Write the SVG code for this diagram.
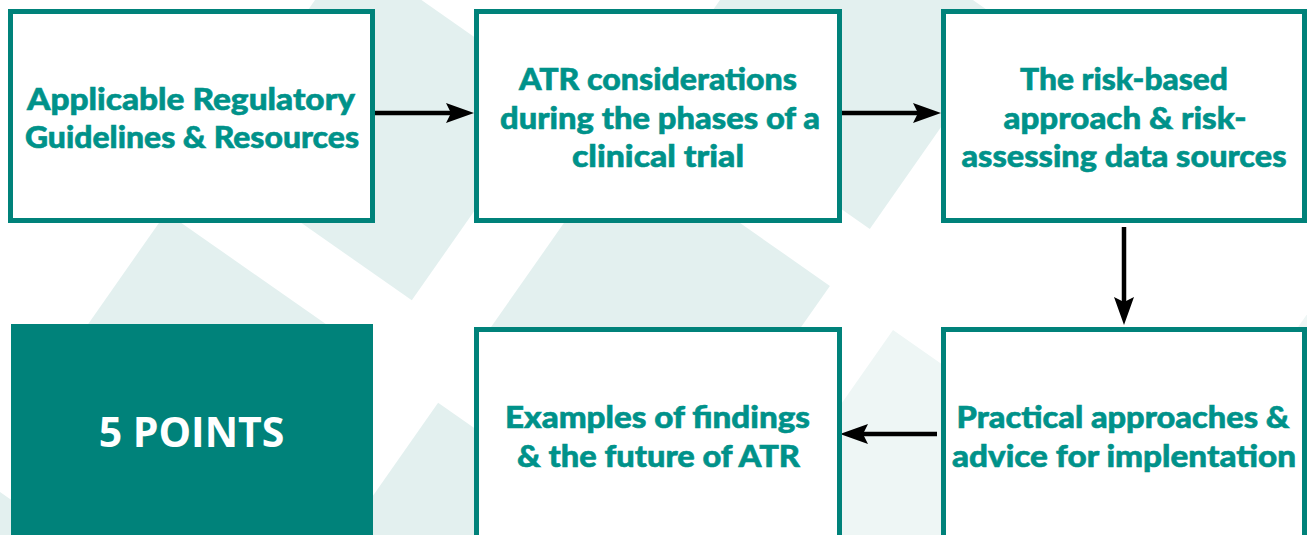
<svg xmlns="http://www.w3.org/2000/svg" width="1307" height="535" viewBox="0 0 1307 535">
  <style>
    .tile { fill: #E3F0EF; }
    .tile-soft { fill: #EEF6F5; }
    .box { fill: #FFFFFF; stroke: #00827A; stroke-width: 5; }
    .badge { fill: #00827A; }
    .label { font-family: Lato, "Open Sans", "Liberation Sans", sans-serif; font-weight: 900; font-size: 31px; fill: #00928A; stroke: #00928A; stroke-width: 0.6; text-anchor: middle; }
    .badge-label { font-family: "Open Sans", "Liberation Sans", sans-serif; font-weight: 700; font-size: 41px; fill: #FFFFFF; text-anchor: middle; }
    .link { stroke: #000000; stroke-width: 4.5; fill: none; }
  </style>
  <defs>
    <marker id="arrowhead" viewBox="0 0 28 20" refX="6" refY="10" markerWidth="28" markerHeight="20" markerUnits="userSpaceOnUse" orient="auto">
      <path d="M0,0 L28,10 L0,20 L5,10 Z" fill="#000000"/>
    </marker>
  </defs>

  <!-- tilted square backdrop -->
  <g id="backdrop">
    <polygon class="tile" points="350,-50 556,94.2 411.8,300.3 205.8,156"/>
    <polygon class="tile" points="166.3,212.4 372.3,356.6 229.5,560.7 23.5,416.4"/>
    <polygon class="tile" points="-19.7,478.2 186.3,622.4 43.5,826.4 -162.6,682.2"/>
    <polygon class="tile" points="803.2,-118.8 1011.2,26.8 869.8,228.9 661.7,83.2"/>
    <polygon class="tile" points="621.8,140.3 829.9,285.9 685.6,491.9 477.6,346.3"/>
    <polygon class="tile" points="438.1,402.7 646.2,548.3 503.4,752.3 295.3,606.7"/>
    <polygon class="tile-soft" points="893,330.1 1099.7,474.8 955.4,680.8 748.7,536.1"/>
    <polygon class="tile-soft" points="1344.8,260.3 1551,405 1410.1,608 1203.4,462.4"/>
  </g>

  <g id="connectors">
    <line class="link" x1="375" y1="113" x2="452" y2="113" marker-end="url(#arrowhead)"/>
    <line class="link" x1="842" y1="113" x2="919" y2="113" marker-end="url(#arrowhead)"/>
    <line class="link" x1="1124" y1="227" x2="1124" y2="303" marker-end="url(#arrowhead)"/>
    <line class="link" x1="937" y1="434" x2="862" y2="434" marker-end="url(#arrowhead)"/>
  </g>

  <g id="node-guidelines">
    <rect class="box" x="10.5" y="11.5" width="362" height="209"/>
    <text class="label" x="191" y="110" textLength="328" lengthAdjust="spacingAndGlyphs">Applicable Regulatory</text>
    <text class="label" x="192" y="148.3" textLength="334" lengthAdjust="spacingAndGlyphs">Guidelines &amp; Resources</text>
  </g>

  <g id="node-phases">
    <rect class="box" x="476.5" y="11.5" width="363" height="209"/>
    <text class="label" x="658" y="90" textLength="278" lengthAdjust="spacingAndGlyphs">ATR considerations</text>
    <text class="label" x="660" y="128.5" textLength="320" lengthAdjust="spacingAndGlyphs">during the phases of a</text>
    <text class="label" x="658" y="167" textLength="172" lengthAdjust="spacingAndGlyphs">clinical trial</text>
  </g>

  <g id="node-risk">
    <rect class="box" x="943.5" y="11.5" width="361" height="209"/>
    <text class="label" x="1124" y="90" textLength="208" lengthAdjust="spacingAndGlyphs">The risk-based</text>
    <text class="label" x="1125" y="128.5" textLength="243" lengthAdjust="spacingAndGlyphs">approach &amp; risk-</text>
    <text class="label" x="1124" y="167" textLength="325" lengthAdjust="spacingAndGlyphs">assessing data sources</text>
  </g>

  <g id="node-practical">
    <rect class="box" x="943.5" y="329.5" width="361" height="220"/>
    <text class="label" x="1123" y="428.3" textLength="333" lengthAdjust="spacingAndGlyphs">Practical approaches &amp;</text>
    <text class="label" x="1124" y="466.7" textLength="344" lengthAdjust="spacingAndGlyphs">advice for implentation</text>
  </g>

  <g id="node-findings">
    <rect class="box" x="476.5" y="329.5" width="363" height="220"/>
    <text class="label" x="657.5" y="428.3" textLength="305" lengthAdjust="spacingAndGlyphs">Examples of findings</text>
    <text class="label" x="658.5" y="466.7" textLength="283" lengthAdjust="spacingAndGlyphs">&amp; the future of ATR</text>
  </g>

  <g id="node-points">
    <rect class="badge" x="11" y="324" width="362" height="220"/>
    <text class="badge-label" x="191.5" y="446.7">5 POINTS</text>
  </g>
</svg>
